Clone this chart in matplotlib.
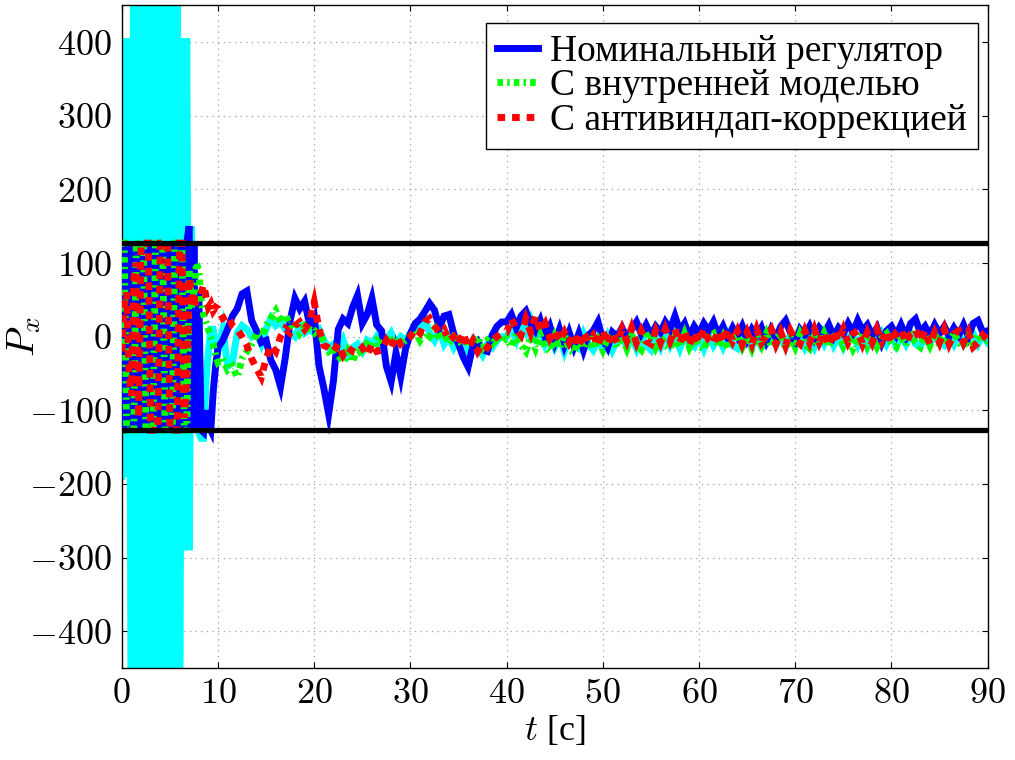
# coding=UTF-8
import numpy as np
import matplotlib
matplotlib.use('Agg')
import matplotlib.pyplot as plt
from matplotlib.ticker import FuncFormatter, MultipleLocator

plt.rcParams['font.family'] = ['Liberation Serif', 'DejaVu Serif']
plt.rcParams['mathtext.fontset'] = 'cm'

# time grid: 0.25 s up to 10 s (fast switching), then 0.5 s
t = np.concatenate([np.arange(0, 10, 0.25), np.arange(10, 90.5, 0.5)])
limit = 127  # saturation level

labels = ['Номинальный регулятор', 'С внутренней моделью', 'С антивиндап-коррекцией']

# unlabeled (cyan) signal
p_cyan = [
    -190, 405, -190, 405, -700, 700, -700, 700, -700, 700,
    -700, 700, -700, 700, -700, 700, -700, 700, -700, 700,
    -700, 700, -700, 700, -700, 405, -290, 405, -290, 150,
    -60, 20, -130, -138, -138, -60, -20, 10, 10, -10,
    -20, 10, -40, -35, 5, 15, 10, 0, 5, -10, 10, 25, 15, 20, 10, 5, 0, 15, 5, 10,
    5, 10, -5, -15, -10, -20, -5, -25, -15, -10, -20, -5, -10, 0, -15, -5, 5, -10, 0, -5,
    5, 15, 10, 25, 5, -5, 10, -10, 0, -15, -5, -10, -20, -5, -15, -25, -10, -15, -5, 0,
    0, 12, -4, 18, 6, 22, 0, 12, -10, 4, -14, 0, -20, 0, -12, -16, 4, -10, -18, -4,
    -16, 0, -18, -4, 4, -14, 0, -16, 2, -12, -18, 0, -14, 4, -12, 0, -16, 2, -10, -14,
    0, -16, 2, -12, 0, -14, 2, -12, -16, 0, 2, -14, 0, -14, -10, 2, -12, 0, -14, 2,
    -12, 2, -14, 0, -14, 2, -10, 4, -12, 0, -14, 0, 2, -12, 2, -14, 0, -10, 4, -10,
    2, -12, 2, -10, 4, -10, -14, 2, -10, 4, -8, -12, 2, -10, 4, -10, 0, 4, -10, 2,
    -8]

# nominal controller
p_nom = [
    -127, 127, -127, 127, -127, 127, -127, 127, -127, 127,
    -127, 127, -127, 127, -127, 127, -127, 127, -127, 127,
    -127, 127, -127, 127, -127, 127, -127, 127, 150, -127,
    127, -127, 60, -127, -130, -100, -120, -127, -75, -40,
    -15, -5, 10, 28, 38, 58, 62, 22, 8, -8, -5, -32, -45, -68, -28, 22, 52, 38, 48, 18,
    28, -40, -70, -105, -60, 10, 24, 18, 40, 56, 18, 30, 52, 16, 8, -40, -61, -22, -54, -16,
    4, 18, 24, 34, 45, 36, 12, 28, 30, 4, -10, -28, -41, -12, -6, -18, -20, 2, 14, 20,
    20, 30, 12, 28, 35, 18, 8, 22, 0, 14, -8, 10, -12, 6, -14, 4, -18, 2, 8, 20,
    -4, -15, 6, 0, 12, -2, 10, 20, 4, 16, 2, 14, 6, 20, 10, 28, 8, 18, 0, 14,
    4, 18, 8, 20, 2, 14, -2, 12, 0, 14, -4, 10, 0, 12, -6, 10, -2, 14, 22, 6,
    -8, 10, 2, 14, -2, 12, 4, 16, 0, 12, 4, 18, 6, 22, 8, 16, 2, 12, -8, 8,
    14, 2, 16, 0, 18, 24, 6, 14, 2, 16, 4, 14, 0, 12, 2, 16, 0, 18, 22, 6,
    8]

# internal model controller
p_imc = [
    127, 127, -127, -127, -127, -127, 127, 127, 127, 127,
    -127, -127, -127, -127, 127, 127, 127, 127, -127, -127,
    -127, -127, 127, 127, 127, 127, -127, -127, 90, 40,
    60, 100, 90, 50, 30, 20, 10, 0, -10, -25,
    -35, -30, -45, -40, -55, -30, -20, -10, 5, 0, 15, 25, 35, 20, 30, 15, 20, 5, 15, 10,
    5, 12, -10, -20, -15, -25, -35, -20, -34, -15, -25, -10, -15, -5, -12, -2, -8, 0, -10, -5,
    0, 8, -5, 5, 0, 10, -3, 5, -10, 0, -5, -12, -3, -10, 0, -15, -5, -10, -2, -8,
    -2, -14, 4, -12, -20, 0, -16, 2, -14, -20, 0, -16, 4, -18, -22, -2, -16, 4, -16, -4,
    -18, -2, 4, -14, 0, -16, 2, -12, -18, 0, 4, -14, 0, -12, -16, 0, -14, 4, -14, 0,
    -12, -18, 0, 4, -14, 0, -16, -2, 2, -14, 0, -16, 2, -12, 4, -14, -2, 4, -16, 0,
    -14, 4, -10, -16, 2, -12, 4, -14, 0, 4, -12, 0, -16, -2, 6, -12, 0, -14, -2, 4,
    -10, -14, 2, -12, 8, -8, -14, 2, -12, 4, -12, 0, -12, 6, -8, -14, 0, -10, 4, -8,
    -4]

# anti-windup controller
p_aw = [
    -20, 40, 60, -50, -80, 80, 100, -110, 127, 127,
    127, 127, -127, -127, -127, -127, 127, 127, 127, 127,
    -127, -127, -127, -127, 127, 127, -110, -60, 80, 60,
    40, 50, 50, 60, 70, 55, 40, 45, 35, 40,
    38, 25, 29, 15, 10, 0, -12, -30, -43, -55, -30, -12, -20, 0, 11, 5, 15, 20, 10, 20,
    47, 10, -12, -15, -20, -10, -25, -15, -20, -22, -15, -25, -10, -20, -18, -5, -15, 0, -10, -5,
    0, 10, 5, 20, 25, 15, 5, 10, -5, 0, -10, 5, -15, -5, -20, -10, -15, -5, 0, 5,
    6, 24, 10, 2, 24, 6, 28, 8, 18, -2, 8, -6, 6, -8, 4, -14, 6, -6, 2, -12,
    8, -10, 6, -8, 10, -6, 12, -8, 8, -6, -10, 8, -8, 10, -6, 10, -8, 8, -12, 6,
    -8, 10, -4, -10, 8, -8, 10, -6, 8, -10, 6, -10, 10, -8, 2, 10, -10, 6, -12, 8,
    -4, -10, 8, -8, 10, -8, 6, -12, 8, -6, 10, -8, 4, 8, -10, 6, -8, 10, -6, 8,
    -8, 6, 10, -8, 4, 10, -6, 8, -10, 6, -8, 10, -10, 4, 8, -8, 6, -14, -8, 2,
    -4]

fig = plt.figure(figsize=(10.15, 7.6), dpi=100)
ax = fig.add_axes([0.120, 0.121, 0.853, 0.872])

lw = 5.0
ax.plot(t, p_cyan, color='#00ffff', lw=lw, solid_joinstyle='miter', zorder=2)
ax.plot(t, p_nom, color='#0000ff', lw=lw, solid_joinstyle='miter', label=labels[0], zorder=3)
ax.plot(t, p_imc, color='#00ff00', lw=lw, dashes=(0.8, 0.6, 0.35, 0.6),
        dash_joinstyle='miter', label=labels[1], zorder=4)
ax.plot(t, p_aw, color='#ff0000', lw=lw, dashes=(1.1, 1.0),
        dash_joinstyle='miter', label=labels[2], zorder=5)
ax.axhline(limit, color='black', lw=3.8, zorder=6)
ax.axhline(-limit, color='black', lw=3.8, zorder=6)

ax.set_xlim(0, 90)
ax.set_ylim(-450, 450)
ax.xaxis.set_major_locator(MultipleLocator(10))
ax.yaxis.set_major_locator(MultipleLocator(100))
fmt = FuncFormatter(lambda v, pos: '$%d$' % v)
ax.xaxis.set_major_formatter(fmt)
ax.yaxis.set_major_formatter(fmt)
ax.tick_params(direction='in', length=4, width=0.8, labelsize=26,
               top=True, right=True, pad=7)
ax.grid(True, color='#a0a0a0', lw=0.9, linestyle=(0, (1, 3.5)))
ax.set_axisbelow(True)
for s in ax.spines.values():
    s.set_linewidth(1.0)

ax.set_xlabel('$t$ [с]', fontsize=26, labelpad=2)
ax.set_ylabel('$P_x$', fontsize=28)
ax.yaxis.set_label_coords(-0.09, 0.5)

leg = ax.legend(loc='upper right', bbox_to_anchor=(0.9885, 0.973), borderaxespad=0,
                fontsize=27, labelspacing=0.0, handlelength=1.1, handletextpad=0.3,
                borderpad=0.3, fancybox=False, framealpha=1, edgecolor='black')
leg.get_frame().set_linewidth(1.0)
for h in leg.get_lines():
    h.set_linewidth(5.0)

fig.savefig('out.png', dpi=100)
